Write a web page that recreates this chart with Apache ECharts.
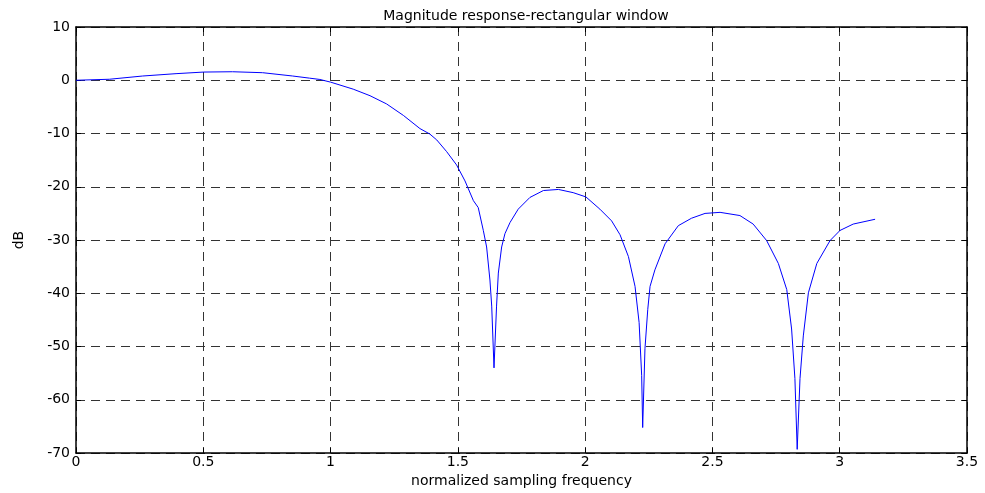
<!DOCTYPE html>
<html>
<head>
<meta charset="utf-8">
<script src="https://cdn.jsdelivr.net/npm/echarts@6/dist/echarts.min.js"></script>
<style>html,body{margin:0;padding:0;background:#fff;}#chart{width:985px;height:493px;}</style>
</head>
<body>
<div id="chart"></div>
<script>
var freq = [0, 0.131, 0.262, 0.393, 0.502, 0.615, 0.733, 0.851, 0.917, 0.958, 1.0, 1.089, 1.155, 1.22, 1.286, 1.351, 1.39, 1.417, 1.456, 1.495, 1.528, 1.561, 1.58, 1.6, 1.613, 1.626, 1.633, 1.642, 1.652, 1.659, 1.672, 1.685, 1.705, 1.737, 1.783, 1.836, 1.895, 1.953, 2.003, 2.058, 2.104, 2.137, 2.17, 2.196, 2.212, 2.222, 2.226, 2.235, 2.246, 2.255, 2.274, 2.314, 2.366, 2.418, 2.471, 2.53, 2.608, 2.66, 2.713, 2.759, 2.792, 2.811, 2.824, 2.833, 2.844, 2.857, 2.877, 2.91, 2.962, 3.001, 3.053, 3.139];
var magDb = [0, 0.19, 0.8, 1.24, 1.54, 1.6, 1.42, 0.8, 0.4, 0.15, -0.35, -1.67, -2.9, -4.44, -6.6, -9.07, -10.1, -11.2, -13.4, -15.9, -18.9, -22.6, -23.9, -28.2, -31.3, -37.5, -42.4, -54.0, -42.4, -36.2, -31.3, -28.8, -26.7, -24.2, -22.0, -20.7, -20.5, -21.1, -21.9, -24.2, -26.4, -29.0, -33.1, -38.7, -45.5, -55.4, -65.2, -50.4, -43, -38.7, -35.6, -30.7, -27.3, -25.9, -25.0, -24.8, -25.4, -27.0, -30.1, -34.4, -39.3, -46.7, -56.0, -69.3, -56, -48, -39.9, -34.4, -30.1, -28.2, -27.0, -26.1];
var xTicks = [0, 0.5, 1, 1.5, 2, 2.5, 3, 3.5];
var yTicks = [-70, -60, -50, -40, -30, -20, -10, 0, 10];

var seriesData = freq.map(function (f, i) { return [f, magDb[i]]; });
var font = 'DejaVu Sans';
var gridLine = { show: true, lineStyle: { color: '#333', type: [9, 6], width: 1 } };
var frame = { show: true, onZero: false, lineStyle: { color: '#000', width: 1.5 } };
var tick = { show: true, inside: true, length: 5, lineStyle: { color: '#000' } };

var chart = echarts.init(document.getElementById('chart'));
chart.setOption({
  animation: false,
  backgroundColor: '#fff',
  title: {
    text: 'Magnitude response-rectangular window',
    left: 521, top: 4, textAlign: 'center',
    textStyle: { fontFamily: font, fontSize: 14, fontWeight: 'normal', color: '#000' }
  },
  grid: { left: 76, right: 18, top: 27, bottom: 34 },
  xAxis: [{
    type: 'value', min: xTicks[0], max: xTicks[xTicks.length - 1], interval: 0.5,
    position: 'bottom',
    name: 'normalized sampling frequency', nameLocation: 'middle', nameGap: 17,
    nameTextStyle: { fontFamily: font, fontSize: 14, color: '#000' },
    axisLine: frame, axisTick: tick, splitLine: gridLine,
    axisLabel: { fontFamily: font, fontSize: 14, color: '#000', margin: 2 }
  }, {
    type: 'value', min: xTicks[0], max: xTicks[xTicks.length - 1], interval: 0.5,
    position: 'top', axisLine: frame, axisTick: tick, splitLine: { show: false },
    axisLabel: { show: false }
  }],
  yAxis: [{
    type: 'value', min: yTicks[0], max: yTicks[yTicks.length - 1], interval: 10,
    position: 'left',
    name: 'dB', nameLocation: 'middle', nameGap: 50, nameRotate: 90,
    nameTextStyle: { fontFamily: font, fontSize: 14, color: '#000' },
    axisLine: frame, axisTick: tick, splitLine: gridLine,
    axisLabel: { fontFamily: font, fontSize: 14, color: '#000', margin: 6 }
  }, {
    type: 'value', min: yTicks[0], max: yTicks[yTicks.length - 1], interval: 10,
    position: 'right', axisLine: frame, axisTick: tick, splitLine: { show: false },
    axisLabel: { show: false }
  }],
  series: [{
    type: 'line', xAxisIndex: 0, yAxisIndex: 0,
    data: seriesData, showSymbol: false, symbol: 'none',
    lineStyle: { color: '#0000ff', width: 1 }, clip: true
  }]
});
</script>
</body>
</html>
